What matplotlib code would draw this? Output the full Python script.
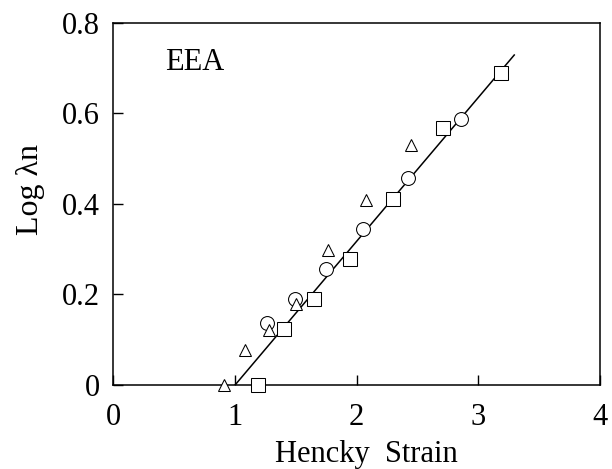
"""Log(lambda n) against Hencky strain for EEA."""

import matplotlib
matplotlib.use("Agg")
import matplotlib.pyplot as plt

# Measured points, one list pair per marker series
circle_strain = [1.26, 1.49, 1.745, 2.055, 2.425, 2.86]
circle_log = [0.136, 0.190, 0.256, 0.344, 0.456, 0.588]

square_strain = [1.19, 1.40, 1.65, 1.945, 2.295, 2.71, 3.19]
square_log = [0.0, 0.123, 0.190, 0.278, 0.411, 0.567, 0.690]

triangle_strain = [0.91, 1.08, 1.275, 1.50, 1.76, 2.08, 2.445]
triangle_log = [0.0, 0.077, 0.121, 0.178, 0.298, 0.408, 0.530]

# Straight-line fit through all series
fit_slope = 0.3175
fit_intercept = -0.3175
fit_strain = [1.0, 3.295]

x_ticks = [0, 1, 2, 3, 4]
y_ticks = [0, 0.2, 0.4, 0.6, 0.8]
y_tick_labels = ["0", "0.2", "0.4", "0.6", "0.8"]

plt.rcParams["font.family"] = ["Liberation Serif", "DejaVu Serif"]

fig = plt.figure(figsize=(6.12, 4.69), dpi=100)
ax = fig.add_axes([0.1853, 0.1791, 0.7951, 0.7725])

fit_log = [fit_slope * x + fit_intercept for x in fit_strain]
ax.plot(fit_strain, fit_log, color="black", lw=1.1, zorder=1)

marker_style = dict(linestyle="none", markerfacecolor="white",
                    markeredgecolor="black", markeredgewidth=0.75,
                    clip_on=False)
ax.plot(circle_strain, circle_log, marker="o", markersize=10, zorder=2,
        **marker_style)
ax.plot(square_strain, square_log, marker="s", markersize=9.5, zorder=3,
        **marker_style)
ax.plot(triangle_strain, triangle_log, marker="^", markersize=9, zorder=4,
        **marker_style)

ax.text(0.424, 0.696, "EEA", fontsize=22, ha="left", va="baseline")

#Axes limits and ticks
ax.set_xlim(0, 4)
ax.set_ylim(0, 0.8)
ax.set_xticks(x_ticks)
ax.set_yticks(y_ticks)
ax.set_yticklabels(y_tick_labels)
ax.tick_params(axis="x", direction="in", length=7.5, width=1.0,
               labelsize=22, pad=13)
ax.tick_params(axis="y", direction="in", length=7.5, width=1.0,
               labelsize=22, pad=10)
for spine in ax.spines.values():
    spine.set_linewidth(1.1)

#Axis labels
ax.set_xlabel("Hencky  Strain", fontsize=22)
ax.xaxis.set_label_coords(0.519, -0.152)
ax.set_ylabel("Log λn", fontsize=23)
ax.yaxis.set_label_coords(-0.14, 0.54)

fig.savefig("out.png", dpi=100)
